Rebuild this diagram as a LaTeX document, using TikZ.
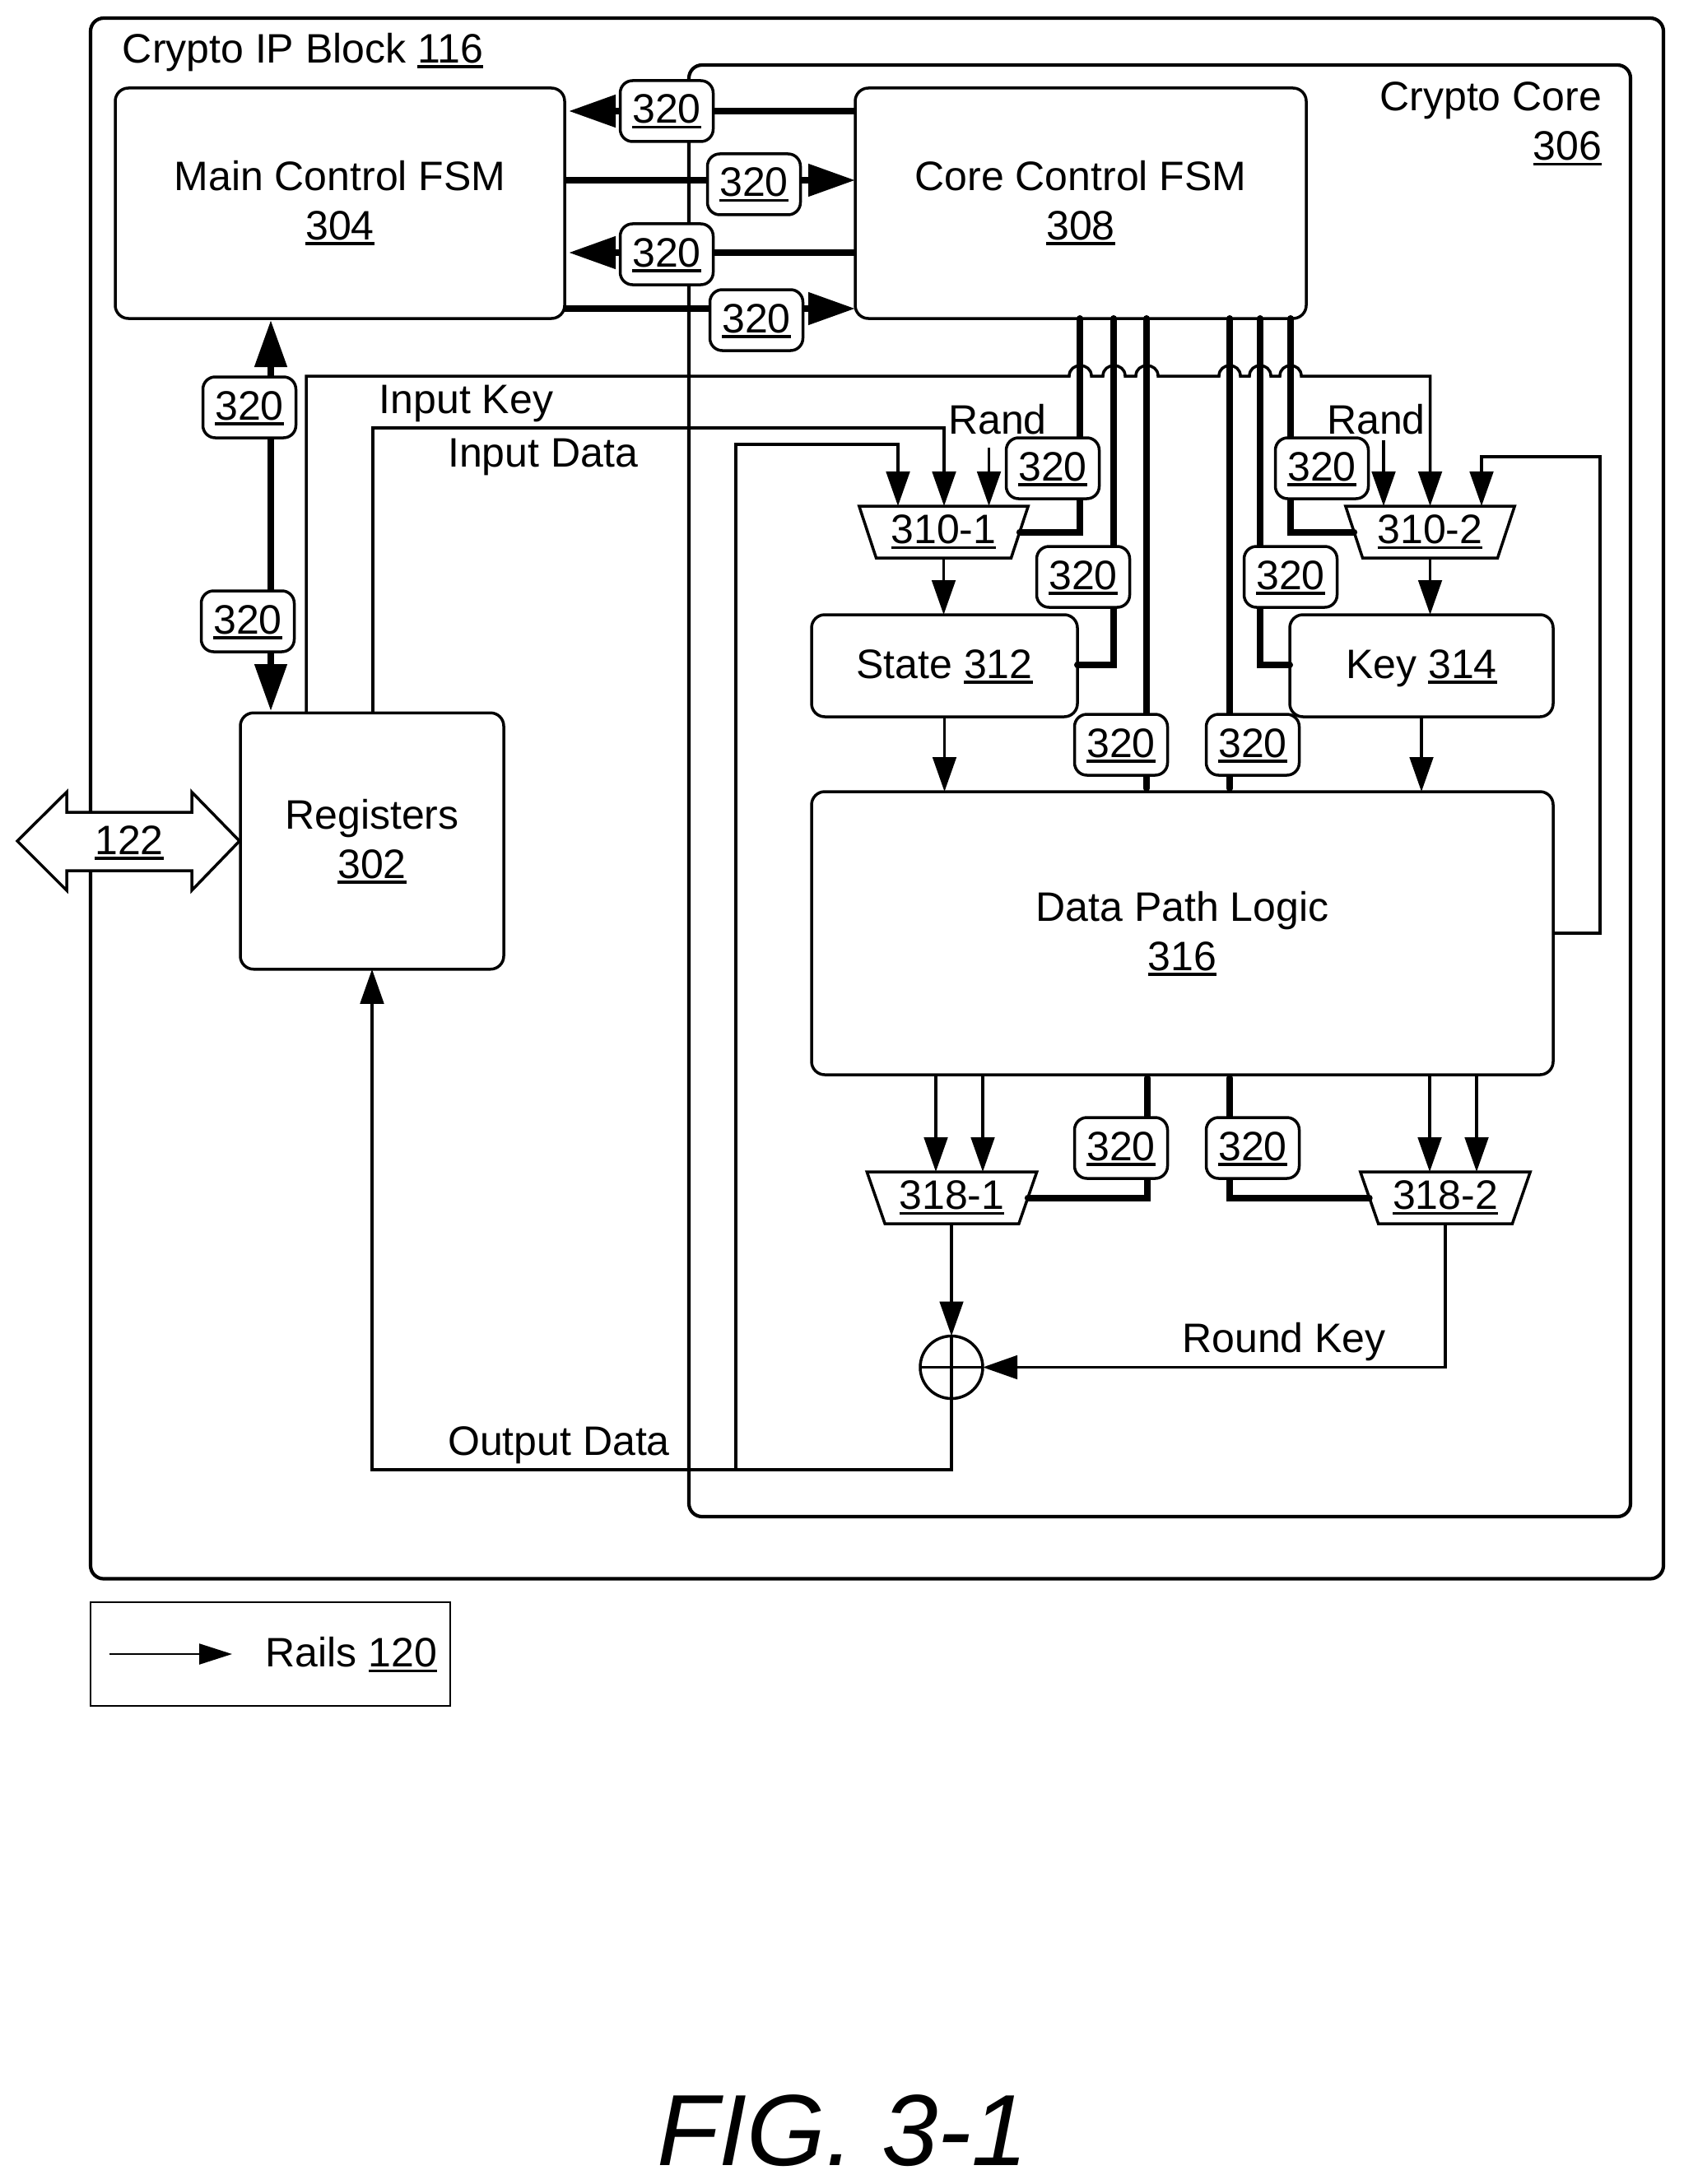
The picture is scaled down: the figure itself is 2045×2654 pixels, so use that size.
\documentclass[tikz,border=0pt]{standalone}
\usepackage{fontspec}
\setmainfont{Liberation Sans}
\usetikzlibrary{arrows.meta,shapes.geometric}
\newcommand{\ulnum}[1]{\sbox0{#1}\usebox0\llap{\rule[-0.13em]{\wd0}{0.07em}}}
\tikzset{
  txt/.style={inner sep=0pt,outer sep=0pt,anchor=base},
  frame/.style={draw,line width=2.1pt,rounded corners=8pt,inner sep=0pt,outer sep=0pt},
  blk/.style={draw,fill=white,line width=1.75pt,rounded corners=8pt,inner sep=0pt,outer sep=0pt,align=center,text depth=0pt},
  tag/.style={draw,fill=white,line width=1.75pt,rounded corners=7.5pt,inner sep=0pt,outer sep=0pt,minimum width=56.5pt,minimum height=37pt,text height=15pt,text depth=0pt},
  mux/.style={draw,fill=white,line width=1.75pt,shape=trapezium,shape border rotate=180,trapezium stretches=true,trapezium left angle=60,trapezium right angle=60,minimum width=103.5pt,minimum height=31.5pt,inner sep=0pt,outer sep=0pt,text height=14pt,text depth=0pt},
  thin arrow/.style={line width=1.75pt,-{Triangle[length=21pt,width=14.25pt]}},
  thinline/.style={line width=1.75pt},
  fat/.style={line width=4pt,line cap=round},
  fat arrow/.style={line width=4pt,-{Triangle[length=28.5pt,width=19pt]}},
  every node/.style={font=\fontsize{25pt}{30pt}\selectfont},
}
\begin{document}
\begin{tikzpicture}[x=0.5pt,y=-0.5pt]
\useasboundingbox (0,0) rectangle (2045,2654);
% outer frames
\node[frame,minimum width=955.5pt,minimum height=948.25pt] (ip) at (1065.5,970.25) {};
\node[frame,minimum width=572pt,minimum height=882pt] (cc) at (1409,961) {};
\node[txt] (iptitle) at (368,76.5) {Crypto IP Block \ulnum{116}};
\node[txt,anchor=base east,align=right] (cctitle) at (1946,195) {Crypto Core\\\ulnum{306}\hspace{2.5pt}};
% blocks
\node[blk,minimum width=273pt,minimum height=140pt,text height=44.5pt] (main) at (413,247) {Main Control FSM\\\ulnum{304}};
\node[blk,minimum width=274pt,minimum height=140pt,text height=44.5pt] (core) at (1313,247) {Core Control FSM\\\ulnum{308}};
\node[blk,minimum width=160pt,minimum height=155.75pt,text height=45pt] (reg) at (452,1022) {Registers\\\ulnum{302}};
\node[blk,minimum width=161.5pt,minimum height=62pt,text height=15pt] (state) at (1147.5,809) {State \ulnum{312}};
\node[blk,minimum width=160pt,minimum height=62pt,text height=15pt] (key) at (1727,809) {Key \ulnum{314}};
\node[blk,minimum width=450.5pt,minimum height=172pt,text height=45pt] (dp) at (1436.5,1134) {Data Path Logic\\\ulnum{316}};
\node[mux] (m1) at (1146.5,646.5) {\ulnum{310-1}};
\node[mux] (m2) at (1737.5,646.5) {\ulnum{310-2}};
\node[mux,trapezium left angle=58.5,trapezium right angle=58.5] (m3) at (1156.5,1455.5) {\ulnum{318-1}};
\node[mux,trapezium left angle=58.5,trapezium right angle=58.5] (m4) at (1756,1455.5) {\ulnum{318-2}};
\node[draw,circle,line width=1.75pt,minimum size=38pt,inner sep=0pt,outer sep=0pt] (xor) at (1156,1661.5) {};
\draw[thinline] (xor.north) -- (xor.south) (xor.west) -- (xor.east);
% free ends
\coordinate (rand1) at (1201.5,544);
\coordinate (rand2) at (1681,535);
% fat rails
\draw[fat arrow,shorten >=2.5pt] (core.west |- 0,135) -- (main.east |- 0,135);
\draw[fat arrow] (main.east |- 0,219) -- (core.west |- 0,219);
\draw[fat arrow,shorten >=2.5pt] (core.west |- 0,307) -- (main.east |- 0,307);
\draw[fat arrow] (main.east |- 0,375) -- (core.west |- 0,375);
\draw[line width=4pt,{Triangle[length=28.5pt,width=19pt]}-{Triangle[length=28.5pt,width=19pt]}] (329,389) -- (329,864);
\draw[fat] (core.south -| 1312,0) |- (m1.east);
\draw[fat] (core.south -| 1353,0) |- (state.east |- 0,808);
\draw[fat,shorten >=2pt] (core.south -| 1393,0) -- (dp.north -| 1393,0);
\draw[fat,shorten >=2pt] (core.south -| 1494,0) -- (dp.north -| 1494,0);
\draw[fat] (core.south -| 1531,0) |- (key.west |- 0,808);
\draw[fat] (core.south -| 1568,0) |- (m2.west);
\draw[fat,shorten <=2pt] (dp.south -| 1394,0) |- (m3.east);
\draw[fat,shorten <=2pt] (dp.south -| 1494,0) |- (m4.west);
% thin connectors
\draw[thin arrow] (reg.north -| 372,0) -- (372,457)
  -- (1299,457) .. controls (1299,440) and (1326,440) .. (1326,457)
  -- (1340,457) .. controls (1340,440) and (1367,440) .. (1367,457)
  -- (1380,457) .. controls (1380,440) and (1407,440) .. (1407,457)
  -- (1481,457) .. controls (1481,440) and (1507,440) .. (1507,457)
  -- (1518,457) .. controls (1518,440) and (1544,440) .. (1544,457)
  -- (1555,457) .. controls (1555,440) and (1581,440) .. (1581,457)
  -- (m2.north |- 0,457) -- (m2.north);
\draw[thin arrow] (reg.north -| 453,0) |- (1147,520) -- (m1.north -| 1147,0);
\draw[thin arrow] (894,1786) |- (1091,540) -- (m1.north -| 1091,0);
\draw[thin arrow] (rand1) -- (m1.north -| rand1);
\draw[thin arrow] (rand2) -- (m2.north -| rand2);
\draw[thin arrow] (dp.east |- 0,1134) -- (1944,1134) |- (1800,555) -- (m2.north -| 1800,0);
\draw[thin arrow] (m1.south) -- (state.north -| m1.south);
\draw[thin arrow] (m2.south) -- (key.north -| m2.south);
\draw[thin arrow] (state.south) -- (dp.north -| state.south);
\draw[thin arrow] (key.south) -- (dp.north -| key.south);
\draw[thin arrow] (dp.south -| 1137,0) -- (m3.north -| 1137,0);
\draw[thin arrow] (dp.south -| 1194,0) -- (m3.north -| 1194,0);
\draw[thin arrow] (dp.south -| 1737,0) -- (m4.north -| 1737,0);
\draw[thin arrow] (dp.south -| 1794,0) -- (m4.north -| 1794,0);
\draw[thin arrow] (m3.south -| xor.north) -- (xor.north);
\draw[thin arrow] (m4.south) |- (xor.east);
\draw[thin arrow] (xor.south) |- (reg.south |- 0,1786) -- (reg.south);
% tags
\node[tag] (t1) at (810,135) {\ulnum{320}};
\node[tag] (t2) at (916,224) {\ulnum{320}};
\node[tag] (t3) at (810,309) {\ulnum{320}};
\node[tag] (t4) at (919,389) {\ulnum{320}};
\node[tag] (t5) at (303,495) {\ulnum{320}};
\node[tag] (t6) at (301,755) {\ulnum{320}};
\node[tag] (t7) at (1279,569) {\ulnum{320}};
\node[tag] (t8) at (1316,701) {\ulnum{320}};
\node[tag] (t9) at (1606,569) {\ulnum{320}};
\node[tag] (t10) at (1568,701) {\ulnum{320}};
\node[tag] (t11) at (1362,905) {\ulnum{320}};
\node[tag] (t12) at (1522,905) {\ulnum{320}};
\node[tag] (t13) at (1362,1395) {\ulnum{320}};
\node[tag] (t14) at (1522,1395) {\ulnum{320}};
% bus arrow
\draw[fill=white,line width=1.75pt,line join=miter] (21,1022) -- (81,962.5) -- (81,987) -- (233,987) -- (233,962.5) -- (291,1022) -- (233,1082) -- (233,1058) -- (81,1058) -- (81,1082) -- cycle;
\node[txt] (bus) at (157,1038) {\ulnum{122}};
% labels
\node[txt] (lkey) at (566.5,502.5) {Input Key};
\node[txt] (ldata) at (659.5,567.5) {Input Data};
\node[txt] (lout) at (679,1768.5) {Output Data};
\node[txt] (lround) at (1560,1643.5) {Round Key};
\node[txt] (lr1) at (1212,527.5) {Rand};
\node[txt] (lr2) at (1672,527.5) {Rand};
% legend
\node[draw,line width=1pt,minimum width=218.5pt,minimum height=63.25pt,inner sep=0pt,outer sep=0pt] (legend) at (328.5,2010) {};
\coordinate (la) at (133,2010);
\coordinate (lb) at (282,2010);
\draw[line width=1.25pt,-{Triangle[length=20pt,width=12.5pt]}] (la) -- (lb);
\node[txt] (lrails) at (427,2025.5) {Rails \ulnum{120}};
\node[txt,anchor=base west,font=\fontsize{61.5pt}{70pt}\selectfont\itshape] (fig) at (798,2631) {FIG. 3-1};
\end{tikzpicture}
\end{document}
